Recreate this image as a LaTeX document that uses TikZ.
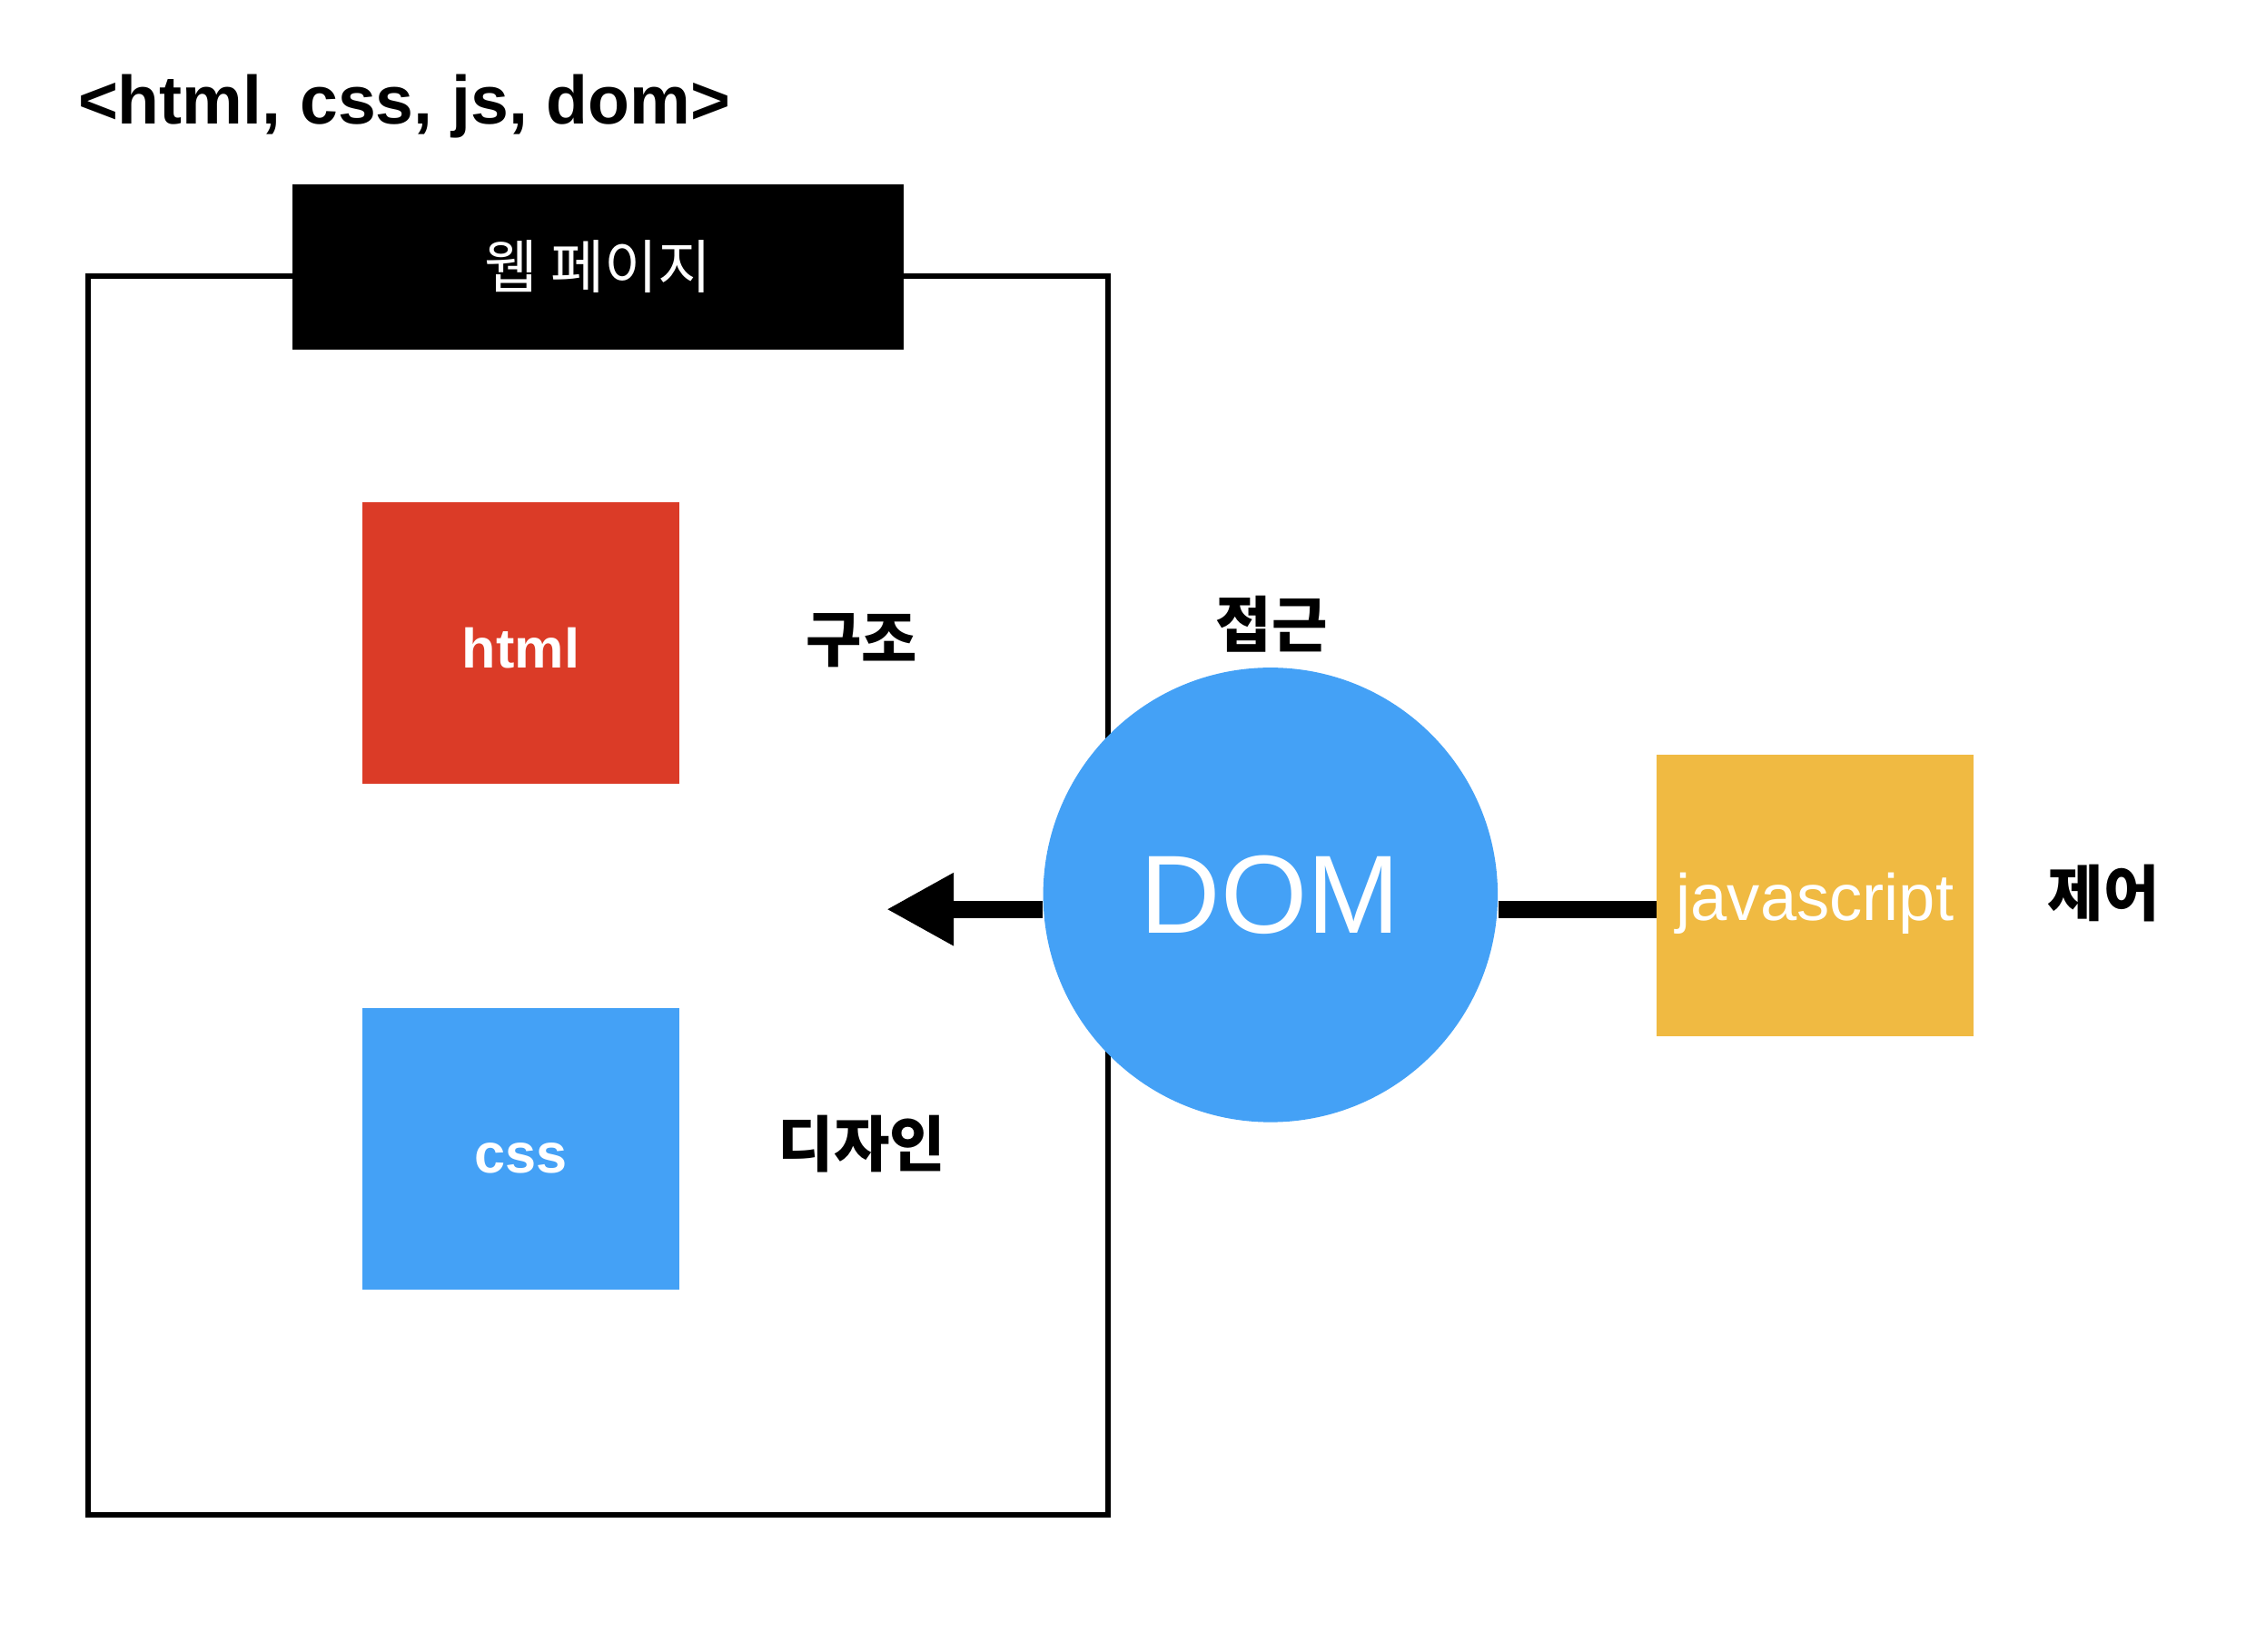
\documentclass[tikz,border=0pt]{standalone}
\usepackage{fontspec}
\setmainfont{Liberation Sans}
\newfontfamily\kofont{Noto Sans CJK KR}
\usetikzlibrary{arrows.meta}
\definecolor{htmlblock}{RGB}{219, 59, 39}
\definecolor{cssblock}{RGB}{68, 161, 246}
\definecolor{jsblock}{RGB}{240, 186, 66}
\tikzset{
	block/.style={minimum width=4.4cm, minimum height=3.92cm, inner sep=0pt, text height=19.4pt, text depth=0pt, text=white},
	roletext/.style={inner sep=0pt, font=\kofont\bfseries\fontsize{24}{28}\selectfont},
	link/.style={line width=6.7pt}
}

\begin{document}
\begin{tikzpicture}[x=0.02cm, y=-0.02cm]
		\useasboundingbox (0,0) rectangle (1568,1148);
		\node[anchor=base west, inner sep=0pt, font=\bfseries\fontsize{27}{32}\selectfont] (title) at (54, 86) {<html, css, js, dom>};

		\node[draw, line width=2.1pt, minimum width=14.18cm, minimum height=17.22cm] (page) at (415.5, 622.5) {};
		\node[fill=black, minimum width=8.5cm, minimum height=2.3cm, text=white, font=\kofont\fontsize{23}{27}\selectfont] (pagetitle) at (415.5, 185.5) {웹 페이지};

		\node[block, fill=htmlblock, font=\bfseries\fontsize{22}{26}\selectfont] (html) at (362, 447) {html};
		\node[roletext] (structure) at (599, 445) {구조};

		\node[block, fill=cssblock, font=\bfseries\fontsize{22}{26}\selectfont] (css) at (362, 798.5) {css};
		\node[roletext] (design) at (599, 795) {디자인};

		\node[circle, fill=cssblock, minimum size=6.32cm, inner sep=0pt, text=white, font=\fontsize{44}{50}\selectfont] (dom) at (883, 622) {DOM};
		\node[roletext] (access) at (884, 434) {접근};

		\node[block, fill=jsblock, font=\fontsize{26}{30}\selectfont] (js) at (1261.5, 622.5) {javascript};
		\node[roletext] (control) at (1462, 621) {제어};

		\coordinate (tip) at (616, 632);
		\draw[link, -{Triangle[length=26.7pt, width=27pt]}] (dom.west |- tip) -- (tip);
		\draw[link] (dom.east |- tip) -- (js.west |- tip);
	\end{tikzpicture}
\end{document}
